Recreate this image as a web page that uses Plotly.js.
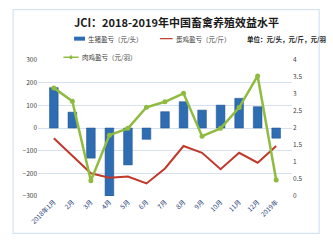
<!DOCTYPE html>
<html><head><meta charset="utf-8">
<script src="https://cdn.plot.ly/plotly-3.0.1.min.js"></script>
<style>html,body{margin:0;padding:0;background:#fff}#c{width:333px;height:247px}</style>
</head><body><div id="c"></div>
<script>
const months = ["2018年1月","2月","3月","4月","5月","6月","7月","8月","9月","10月","11月","12月","2019年"];
const pigProfit = [178, 70, -133, -300, -163, -50, 72, 116, 79, 101, 131, 94, -45];
const layerProfit = [1.70, 1.18, 0.67, 0.54, 0.57, 0.37, 0.81, 1.47, 1.27, 0.79, 1.27, 0.98, 1.47];
const broilerProfit = [3.18, 2.79, 0.45, 1.79, 1.99, 2.61, 2.77, 3.02, 1.76, 1.99, 2.60, 3.53, 0.47];
const leftTicks = [-300,-200,-100,0,100,200,300];
const rightTicks = [0,0.5,1,1.5,2,2.5,3,3.5,4];
const rightTickText = ["0","0.5","1","1.5","2","2.5","3","3.5","4"];

const font = "Noto Sans CJK SC, Noto Sans, sans-serif";
const traces = [
  {type:'bar', x:months, y:pigProfit, name:'生猪盈亏（元/头）', width:0.47,
   marker:{color:'#2f6db3', line:{color:'#1f4f8f', width:0.5}}},
  {type:'scatter', mode:'lines', x:months, y:layerProfit, yaxis:'y2', name:'蛋鸡盈亏（元/斤）',
   line:{color:'#c0392b', width:2}},
  {type:'scatter', mode:'lines+markers', x:months, y:broilerProfit, yaxis:'y2', name:'肉鸡盈亏（元/羽）',
   line:{color:'#8fbc3f', width:2.5}, marker:{color:'#8fbc3f', size:5}}
];
const layout = {
  width:333, height:247, showlegend:false,
  margin:{l:38, r:41, t:60, b:51},
  paper_bgcolor:'#fff', plot_bgcolor:'#fff',
  font:{family:font, size:7, color:'#404040'},
  title:{text:'<b>JCI：2018-2019年中国畜禽养殖效益水平</b>', x:0.53, xanchor:'center', y:0.905, yanchor:'middle',
         font:{family:font, size:11, color:'#1a1a1a'}},
  xaxis:{type:'category', tickangle:-45, tickfont:{size:6.5, color:'#1f3d7a'}, showgrid:false, zeroline:false,
         showline:false, ticks:''},
  yaxis:{range:[-300,300], tickvals:leftTicks, tickfont:{size:6.5, color:'#404040'}, gridcolor:'#d5e0f0', gridwidth:1,
         zeroline:false, showline:false, ticks:''},
  yaxis2:{range:[0,4], overlaying:'y', side:'right', tickvals:rightTicks, ticktext:rightTickText,
          tickfont:{size:6.5, color:'#404040'}, showgrid:false, zeroline:false, showline:false, ticks:''},
  shapes:[
    {type:'rect', xref:'paper', yref:'paper', x0:-0.098, x1:1.107, y0:-0.275, y1:1.37,
     line:{color:'#d6e3f3', width:1.2}, fillcolor:'rgba(0,0,0,0)'},
    {type:'line', xref:'paper', yref:'paper', x0:0.142, x1:0.185, y0:1.157, y1:1.157, line:{color:'#2f6db3', width:4}},
    {type:'line', xref:'paper', yref:'paper', x0:0.48, x1:0.53, y0:1.157, y1:1.157, line:{color:'#c0392b', width:1.2}},
    {type:'line', xref:'paper', yref:'paper', x0:0.10, x1:0.16, y0:1.02, y1:1.02, line:{color:'#8fbc3f', width:1.5}},
    {type:'circle', xref:'paper', yref:'paper', x0:0.124, x1:0.136, y0:1.005, y1:1.035, fillcolor:'#8fbc3f', line:{width:0}}
  ],
  annotations:[
    {xref:'paper', yref:'paper', x:0.19, y:1.157, xanchor:'left', yanchor:'middle', showarrow:false,
     text:'生猪盈亏（元/头）', font:{size:6.5, color:'#404040'}},
    {xref:'paper', yref:'paper', x:0.535, y:1.157, xanchor:'left', yanchor:'middle', showarrow:false,
     text:'蛋鸡盈亏（元/斤）', font:{size:6.5, color:'#404040'}},
    {xref:'paper', yref:'paper', x:0.165, y:1.02, xanchor:'left', yanchor:'middle', showarrow:false,
     text:'肉鸡盈亏（元/羽）', font:{size:6.5, color:'#404040'}},
    {xref:'paper', yref:'paper', x:0.815, y:1.157, xanchor:'left', yanchor:'middle', showarrow:false,
     text:'<b>单位：元/头，元/斤，元/羽</b>', font:{size:6.5, color:'#1a1a1a'}}
  ]
};
Plotly.newPlot('c', traces, layout, {displayModeBar:false, staticPlot:true});
</script></body></html>
